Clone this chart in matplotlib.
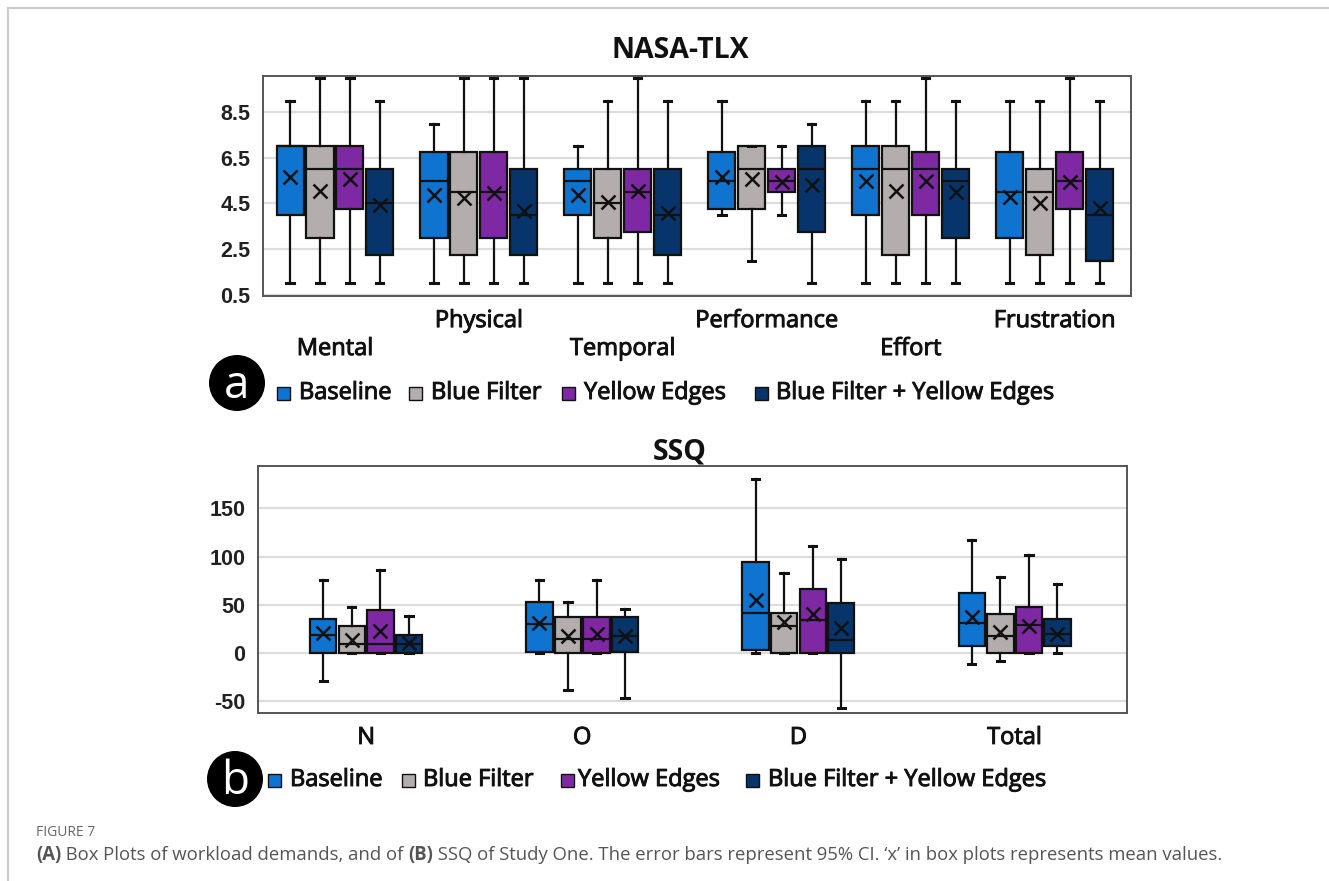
import matplotlib
matplotlib.use('Agg')
import matplotlib.pyplot as plt
from matplotlib.patches import Rectangle, Ellipse
from matplotlib.lines import Line2D
import matplotlib.patheffects as pe

# ---------------- data ----------------
series = ['Baseline', 'Blue Filter', 'Yellow Edges', 'Blue Filter + Yellow Edges']
colors = ['#0F74CF', '#B3AEAD', '#7E28A4', '#06346B']

tlx_cats = ['Mental', 'Physical', 'Temporal', 'Performance', 'Effort', 'Frustration']
# [series][category]
tlx_whishi = [[9, 8, 7, 9, 9, 9],
              [10, 10, 9, 7, 9, 9],
              [10, 10, 10, 7, 10, 10],
              [9, 10, 9, 8, 9, 9]]
tlx_q3 = [[7, 6.75, 6, 6.75, 7, 6.75],
          [7, 6.75, 6, 7, 7, 6],
          [7, 6.75, 6, 6, 6.75, 6.75],
          [6, 6, 6, 7, 6, 6]]
tlx_med = [[7, 5.5, 5.5, 5.5, 6, 5],
           [6, 5, 4.5, 6, 6, 5],
           [6, 5, 5, 5.5, 6, 5.5],
           [4.5, 4, 4, 6, 5.5, 4]]
tlx_q1 = [[4, 3, 4, 4.25, 4, 3],
          [3, 2.25, 3, 4.25, 2.25, 2.25],
          [4.25, 3, 3.25, 5, 4, 4.25],
          [2.25, 2.25, 2.25, 3.25, 3, 2]]
tlx_whislo = [[1, 1, 1, 4, 1, 1],
              [1, 1, 1, 2, 1, 1],
              [1, 1, 1, 4, 1, 1],
              [1, 1, 1, 1, 1, 1]]
tlx_mean = [[5.68, 4.88, 4.88, 5.68, 5.5, 4.8],
            [5.05, 4.73, 4.56, 5.58, 5.05, 4.51],
            [5.57, 4.95, 5.03, 5.46, 5.5, 5.42],
            [4.44, 4.19, 4.1, 5.32, 5.0, 4.32]]
tlx_ticks = [0.5, 2.5, 4.5, 6.5, 8.5]

ssq_cats = ['N', 'O', 'D', 'Total']
ssq_whishi = [[76.3, 75.8, 181.0, 116.9],
              [47.7, 53.1, 83.5, 79.0],
              [85.9, 75.8, 111.4, 101.4],
              [38.2, 45.5, 97.4, 71.7]]
ssq_q3 = [[35.5, 53.1, 94.8, 62.8],
          [28.6, 37.9, 41.8, 40.7],
          [45.2, 37.9, 66.6, 48.3],
          [19.1, 37.9, 52.4, 35.2]]
ssq_med = [[19.1, 30.3, 41.8, 31.4],
           [9.5, 15.2, 27.8, 18.3],
           [9.5, 15.2, 34.5, 29.7],
           [9.5, 18.3, 13.9, 20.3]]
ssq_q1 = [[0, 1.4, 2.8, 7.2],
          [0, 0, 0, 0],
          [0, 0, 0, 0],
          [0, 1.0, 0, 7.2]]
ssq_whislo = [[-28.6, 0, 0, -11.4],
              [0, -38.6, 0, -7.6],
              [0, 0, 0, 0],
              [0, -46.2, -56.6, 0]]
ssq_mean = [[20.7, 31.0, 55.2, 37.9],
            [13.8, 18.3, 32.1, 22.4],
            [23.1, 19.7, 40.7, 28.6],
            [10.3, 18.3, 25.9, 20.3]]
ssq_ticks = [-50, 0, 50, 100, 150]

# ---------------- figure ----------------
W, H = 1329, 881
fig = plt.figure(figsize=(W / 100, H / 100), dpi=100)
fig.patch.set_facecolor('white')

def fx(x):
    return x / W

def fy(y):
    return 1 - y / H

LABEL_FONT = ['Open Sans', 'DejaVu Sans']
TICK_FONT = ['Liberation Sans', 'DejaVu Sans']
TXT_COLOR = '#111111'
THICK = [pe.withStroke(linewidth=0.7, foreground=TXT_COLOR)]

def draw_panel(ax, cats, whishi, q3, med, q1, whislo, mean, spacing, width, capw):
    n = len(series)
    for s in range(n):
        stats = []
        for c in range(len(cats)):
            stats.append(dict(whishi=whishi[s][c], q3=q3[s][c], med=med[s][c],
                              q1=q1[s][c], whislo=whislo[s][c], mean=mean[s][c],
                              fliers=[]))
        pos = [c + (s - (n - 1) / 2) * spacing for c in range(len(cats))]
        ax.bxp(stats, positions=pos, widths=width, patch_artist=True,
               showmeans=True, showfliers=False, capwidths=capw,
               boxprops=dict(facecolor=colors[s], edgecolor='#111111', linewidth=1.6),
               medianprops=dict(color='#111111', linewidth=1.6),
               whiskerprops=dict(color='#111111', linewidth=1.6),
               capprops=dict(color='#111111', linewidth=2.2),
               meanprops=dict(marker='x', markeredgecolor='#111111',
                              markerfacecolor='#111111', markersize=9.5,
                              markeredgewidth=1.8),
               manage_ticks=False)
    ax.set_axisbelow(True)
    ax.yaxis.grid(True, color='#DDDDDD', linewidth=1.6)
    ax.xaxis.grid(False)
    ax.set_xticks([])
    ax.tick_params(axis='y', length=0, pad=9)
    for sp in ax.spines.values():
        sp.set_color('#555555')
        sp.set_linewidth(1.4)
    for lab in ax.get_yticklabels():
        lab.set_fontfamily(TICK_FONT)
        lab.set_fontweight('bold')
        lab.set_fontsize(15.5)
        lab.set_color('#222222')

# Top panel (NASA-TLX)
ax1 = fig.add_axes([fx(263), fy(296), (1131 - 263) / W, (296 - 76) / H])
ax1.set_ylim(0.45, 10.08)
ax1.set_xlim(-0.5, 5.53)
ax1.set_yticks(tlx_ticks)
ax1.set_yticklabels([f'{t:g}' for t in tlx_ticks])
draw_panel(ax1, tlx_cats, tlx_whishi, tlx_q3, tlx_med, tlx_q1, tlx_whislo, tlx_mean,
           spacing=0.208, width=0.188, capw=0.05)
for i, cat in enumerate(tlx_cats):
    yy = -0.114 if i % 2 == 1 else -0.241
    ax1.text(i, yy, cat, transform=ax1.get_xaxis_transform(), ha='center', va='center',
             fontsize=17, family=LABEL_FONT, color=TXT_COLOR, path_effects=THICK)

# Bottom panel (SSQ)
ax2 = fig.add_axes([fx(258), fy(713), (1127 - 258) / W, (713 - 466) / H])
ax2.set_ylim(-62, 194)
ax2.set_xlim(-0.5, 3.52)
ax2.set_yticks(ssq_ticks)
ax2.set_yticklabels([f'{t:g}' for t in ssq_ticks])
draw_panel(ax2, ssq_cats, ssq_whishi, ssq_q3, ssq_med, ssq_q1, ssq_whislo, ssq_mean,
           spacing=0.132, width=0.122, capw=0.034)
for i, cat in enumerate(ssq_cats):
    ax2.text(i, -0.101, cat, transform=ax2.get_xaxis_transform(), ha='center', va='center',
             fontsize=17, family=LABEL_FONT, color=TXT_COLOR, path_effects=THICK)

# Titles
fig.text(fx(680), fy(50), 'NASA-TLX', ha='center', va='center', fontsize=20.5,
         fontweight='bold', family=LABEL_FONT, color=TXT_COLOR)
fig.text(fx(680), fy(452), 'SSQ', ha='center', va='center', fontsize=20.5,
         fontweight='bold', family=LABEL_FONT, color=TXT_COLOR)

# Legends with panel badges
def legend_row(yc, sq_x, tx_x, badge_xy, letter):
    bx, by = badge_xy
    r = 28
    fig.add_artist(Ellipse((fx(bx), fy(by)), 2 * r / W, 2 * r / H,
                           facecolor='black', edgecolor='none', transform=fig.transFigure))
    fig.text(fx(bx), fy(by + 3), letter, ha='center', va='center', fontsize=33,
             color='white', family=LABEL_FONT)
    for s in range(len(series)):
        fig.add_artist(Rectangle((fx(sq_x[s]), fy(yc + 7)), 13 / W, 13 / H,
                                 facecolor=colors[s], edgecolor='#111111',
                                 linewidth=1.0, transform=fig.transFigure))
        fig.text(fx(tx_x[s]), fy(yc), series[s], ha='left', va='center', fontsize=17,
                 family=LABEL_FONT, color=TXT_COLOR, path_effects=THICK)

legend_row(393, [277, 409, 562, 755], [299, 431, 584, 776], (237, 383), 'a')
legend_row(780, [268, 402, 561, 746], [290, 423, 578, 768], (235, 779), 'b')

# Frame lines of the page
fig.add_artist(Line2D([fx(7.5), 1], [fy(7.5), fy(7.5)], color='#CCCCCC', linewidth=1.5,
                      transform=fig.transFigure))
fig.add_artist(Line2D([fx(7.5), fx(7.5)], [fy(7.5), 0], color='#CCCCCC', linewidth=1.5,
                      transform=fig.transFigure))

# Caption
CAP_FONT = ['Open Sans', 'DejaVu Sans']
fig.text(fx(36), fy(833), 'FIGURE 7', ha='left', va='center', fontsize=10,
         family=CAP_FONT, color='#666666')
parts = [('(A)', 'bold'), (' Box Plots of workload demands, and of ', 'normal'),
         ('(B)', 'bold'),
         (' SSQ of Study One. The error bars represent 95% CI. \u2018x\u2019 in box plots represents mean values.',
          'normal')]
renderer = fig.canvas.get_renderer()

def place_caption(size):
    x = 36
    objs = []
    for txt, wt in parts:
        t = fig.text(fx(x), fy(855), txt, ha='left', va='center', fontsize=size,
                     fontweight=wt, family=CAP_FONT, color='#555555')
        bb = t.get_window_extent(renderer=renderer)
        x += bb.width
        objs.append(t)
    return x - 36, objs

wtot, objs = place_caption(12)
for o in objs:
    o.remove()
place_caption(12 * 1181 / wtot)

fig.savefig('out.png', dpi=100, facecolor='white')
